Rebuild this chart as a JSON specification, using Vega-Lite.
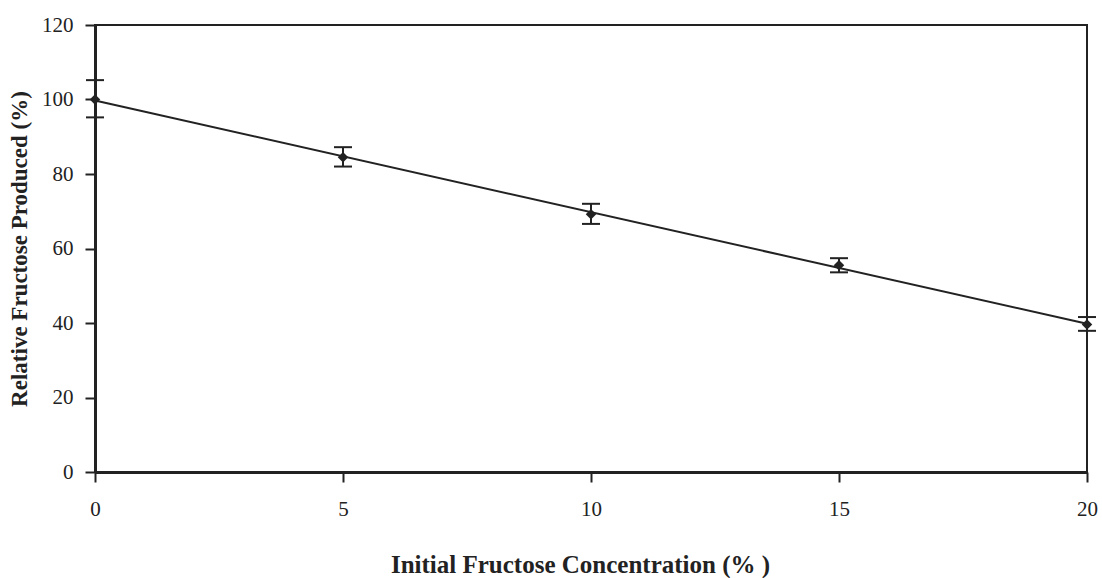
{
  "$schema": "https://vega.github.io/schema/vega-lite/v6.json",
  "width": 992,
  "height": 447,
  "autosize": "none",
  "padding": {"left": 95, "top": 25, "right": 15, "bottom": 106},
  "background": "white",
  "config": {
    "view": {"stroke": "#222", "strokeWidth": 2},
    "axis": {
      "grid": false,
      "domainColor": "#222",
      "domainWidth": 3,
      "tickColor": "#222",
      "tickWidth": 2,
      "tickSize": 10,
      "labelFont": "Liberation Serif",
      "labelFontSize": 21,
      "labelColor": "#222",
      "labelFlush": false,
      "titleFont": "Liberation Serif",
      "titleFontWeight": "bold",
      "titleColor": "#222"
    }
  },
  "data": {
    "values": [
      {"x": 0, "y": 100, "lo": 95.2, "hi": 105.2},
      {"x": 5, "y": 84.5, "lo": 82.0, "hi": 87.2},
      {"x": 10, "y": 69.2, "lo": 66.6, "hi": 72.0},
      {"x": 15, "y": 55.5, "lo": 53.6, "hi": 57.4},
      {"x": 20, "y": 39.6, "lo": 37.9, "hi": 41.6}
    ]
  },
  "layer": [
    {
      "transform": [{"regression": "y", "on": "x", "extent": [0, 20]}],
      "mark": {"type": "line", "color": "#222", "strokeWidth": 2},
      "encoding": {
        "x": {
          "field": "x", "type": "quantitative",
          "scale": {"domain": [0, 20], "nice": false},
          "axis": {
            "values": [0, 5, 10, 15, 20],
            "title": "Initial Fructose Concentration (% )",
            "titleFontSize": 25,
            "labelPadding": 16,
            "titleX": 485,
            "titleY": 92,
            "titleAlign": "center",
            "titleBaseline": "middle"
          }
        },
        "y": {
          "field": "y", "type": "quantitative",
          "scale": {"domain": [0, 120], "nice": false},
          "axis": {
            "values": [0, 20, 40, 60, 80, 100, 120],
            "title": "Relative Fructose Produced (%)",
            "titleFontSize": 23,
            "labelPadding": 12,
            "titlePadding": 10
          }
        }
      }
    },
    {
      "mark": {"type": "rule", "color": "#222", "strokeWidth": 2},
      "encoding": {
        "x": {"field": "x", "type": "quantitative"},
        "y": {"field": "lo", "type": "quantitative"},
        "y2": {"field": "hi"}
      }
    },
    {
      "mark": {"type": "tick", "color": "#222", "opacity": 1, "orient": "horizontal", "size": 18, "thickness": 2},
      "encoding": {
        "x": {"field": "x", "type": "quantitative"},
        "y": {"field": "lo", "type": "quantitative"}
      }
    },
    {
      "mark": {"type": "tick", "color": "#222", "opacity": 1, "orient": "horizontal", "size": 18, "thickness": 2},
      "encoding": {
        "x": {"field": "x", "type": "quantitative"},
        "y": {"field": "hi", "type": "quantitative"}
      }
    },
    {
      "mark": {"type": "point", "shape": "diamond", "filled": true, "color": "#222", "size": 110, "opacity": 1},
      "encoding": {
        "x": {"field": "x", "type": "quantitative"},
        "y": {"field": "y", "type": "quantitative"}
      }
    }
  ]
}
